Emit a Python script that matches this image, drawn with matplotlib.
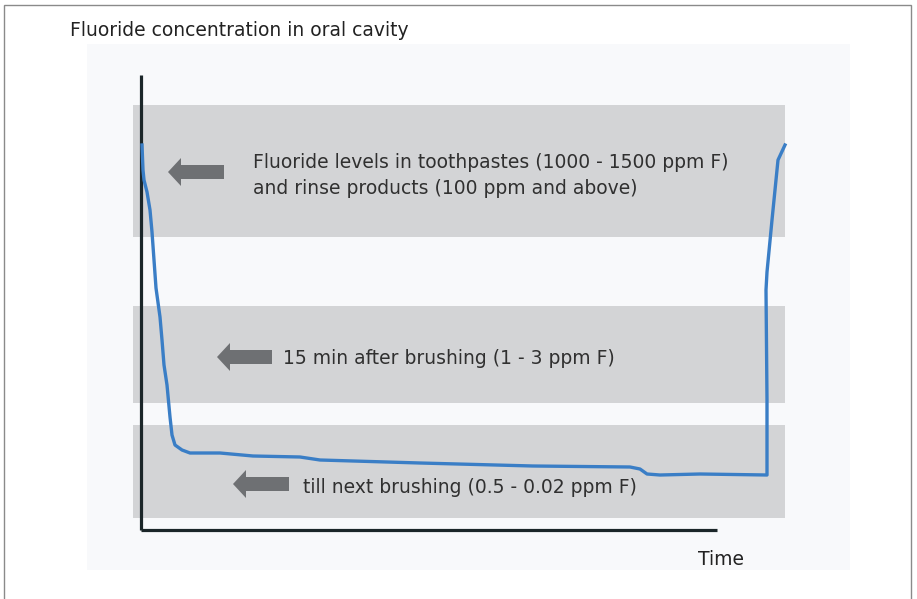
import matplotlib
matplotlib.use("Agg")
import matplotlib.pyplot as plt
from matplotlib.patches import Rectangle

# time / level in arbitrary units (origin at the axis corner)
curve_time = [1, 2, 3, 6, 9, 11, 13, 15, 19, 21, 23, 26, 29, 31, 34, 41, 49, 79, 112, 159,
              179, 279, 392, 489, 499, 506, 519, 559, 626, 626, 625, 626, 631, 634, 637, 644]
curve_level = [385, 360, 350, 338, 320, 298, 270, 242, 213, 190, 165, 145, 113, 95, 85, 80, 77, 77, 74, 73,
               70, 67, 64, 63, 61, 56, 55, 56, 55, 130, 240, 258, 310, 340, 370, 385]

band_low = [293, 127, 12]
band_high = [425, 224, 105]
band_start, band_end = -8, 644

band_labels = [
    "Fluoride levels in toothpastes (1000 - 1500 ppm F)\nand rinse products (100 ppm and above)",
    "15 min after brushing (1 - 3 ppm F)",
    "till next brushing (0.5 - 0.02 ppm F)",
]
label_time = [112, 142, 162]
# baseline of the last line of each label
label_level = [336, 166, 37]

arrow_tail = [83, 131, 148]
arrow_tip = [27, 76, 92]
arrow_level = [358, 173, 46]

y_title = "Fluoride concentration in oral cavity"
x_title = "Time"

FONT = ["DejaVu Sans Condensed", "DejaVu Sans"]


def main() -> None:
    fig = plt.figure(figsize=(9.17, 5.99), dpi=100)
    ax = fig.add_axes([0, 0, 1, 1])
    ax.set_xlim(-141, 776)
    ax.set_ylim(-69, 530)
    ax.axis("off")

    # outer frame and pale panel
    ax.add_patch(Rectangle((-137, -80), 907, 605, fill=False, ec="#8a8a8a", lw=1.0))
    ax.add_patch(Rectangle((-54, -40), 763, 526, fc="#f8f9fb", ec="none"))

    for low, high in zip(band_low, band_high):
        ax.add_patch(Rectangle((band_start, low), band_end - band_start, high - low,
                               fc="#d3d4d6", ec="none"))

    for tail, tip, level in zip(arrow_tail, arrow_tip, arrow_level):
        ax.arrow(tail, level, tip - tail, 0, width=14, head_width=28, head_length=13,
                 length_includes_head=True, fc="#6e7073", ec="none")

    for text, t, lv in zip(band_labels, label_time, label_level):
        ax.text(t, lv, text, ha="left", va="baseline", fontsize=13.5, color="#303030",
                family=FONT, linespacing=1.45)

    ax.plot([0, 0], [0, 455], color="#1b2629", lw=2.3, solid_capstyle="butt")
    ax.plot([0, 576], [0, 0], color="#1b2629", lw=2.3, solid_capstyle="butt")

    ax.plot(curve_time, curve_level, color="#3a7ec6", lw=2.4, solid_joinstyle="round")

    ax.text(-71, 494, y_title, ha="left", va="baseline", fontsize=13.5, color="#222222", family=FONT)
    ax.text(557, -35, x_title, ha="left", va="baseline", fontsize=13.5, color="#222222", family=FONT)

    fig.savefig("out.png", dpi=100)


if __name__ == "__main__":
    main()
